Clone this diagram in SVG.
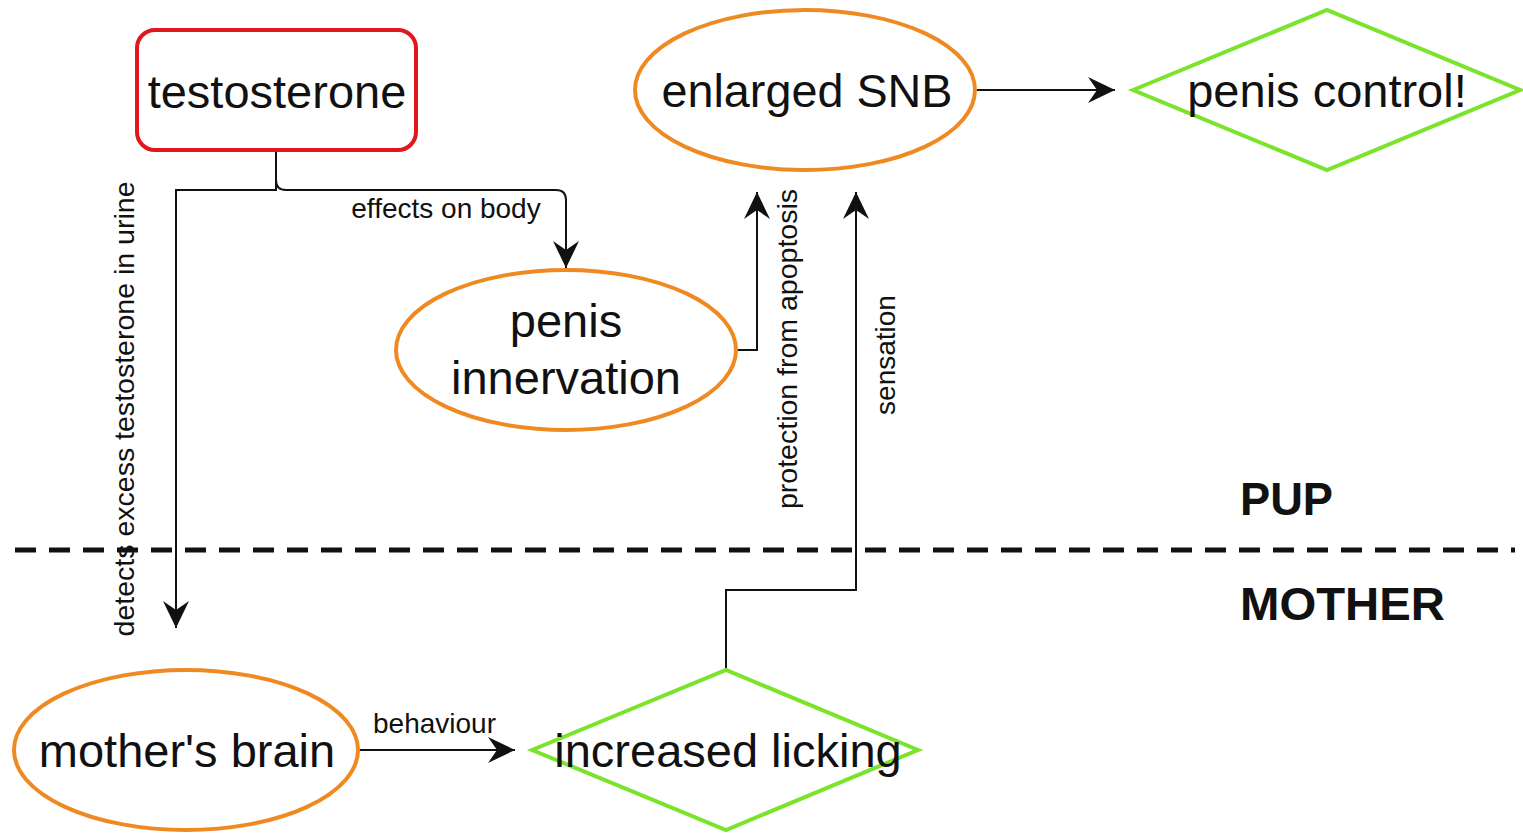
<svg xmlns="http://www.w3.org/2000/svg" width="1523" height="834" viewBox="0 0 1523 834">
<style>
.node{font-family:"Liberation Sans",Arial,Helvetica,sans-serif;font-size:47px;fill:#111;text-anchor:middle}
.lbl{font-family:"Liberation Sans",Arial,Helvetica,sans-serif;font-size:28px;fill:#111}
.ell{fill:#fff;stroke:#EF8A22;stroke-width:4}
.dia{fill:#fff;stroke:#7BE32C;stroke-width:4}
.edge{fill:none;stroke:#111;stroke-width:2}
.sect{font-family:"Liberation Sans",Arial,Helvetica,sans-serif;font-size:46px;font-weight:bold;fill:#111}
</style>
<defs>
<marker id="arr" markerWidth="30" markerHeight="30" viewBox="-28 -15 30 30" refX="0" refY="0" orient="auto" markerUnits="userSpaceOnUse">
<path d="M0,0 L-27,-13 L-18,0 L-27,13 Z" fill="#111"/>
</marker>
</defs>
<rect width="1523" height="834" fill="#fff"/>

<g id="divider">
<line x1="15" y1="550" x2="1515" y2="550" stroke="#111" stroke-width="5" stroke-dasharray="21 13"/>
<text class="sect" x="1240" y="515" textLength="93" lengthAdjust="spacingAndGlyphs">PUP</text>
<text class="sect" x="1240" y="620" textLength="205" lengthAdjust="spacingAndGlyphs">MOTHER</text>
</g>

<g id="connectors">
<path class="edge" d="M276,150 V180 Q276,190 286,190 H556 Q566,190 566,200 V268" marker-end="url(#arr)"/>
<path class="edge" d="M276,150 V190 H176 V628" marker-end="url(#arr)"/>
<path class="edge" d="M736,350 H757 V192" marker-end="url(#arr)"/>
<path class="edge" d="M726,670 V590 H856 V192" marker-end="url(#arr)"/>
<path class="edge" d="M358,750 H515" marker-end="url(#arr)"/>
<path class="edge" d="M977,90 H1115" marker-end="url(#arr)"/>
<text class="lbl" x="446" y="218" text-anchor="middle">effects on body</text>
<text class="lbl" x="373" y="733">behaviour</text>
<text class="lbl" transform="translate(134,409) rotate(-90)" text-anchor="middle" textLength="455" lengthAdjust="spacingAndGlyphs">detects excess testosterone in urine</text>
<text class="lbl" transform="translate(797,349) rotate(-90)" text-anchor="middle" textLength="320" lengthAdjust="spacingAndGlyphs">protection from apoptosis</text>
<text class="lbl" transform="translate(895,355) rotate(-90)" text-anchor="middle">sensation</text>
</g>

<g id="testosterone">
<rect x="137" y="30" width="279" height="120" rx="18" ry="18" fill="#fff" stroke="#E3161E" stroke-width="4"/>
<text class="node" x="277" y="108">testosterone</text>
</g>

<g id="enlarged-snb">
<ellipse class="ell" cx="805" cy="90" rx="170" ry="80"/>
<text class="node" x="807" y="107" textLength="291" lengthAdjust="spacingAndGlyphs">enlarged SNB</text>
</g>

<g id="penis-control">
<polygon class="dia" points="1133,90 1327,10 1520,90 1327,170"/>
<text class="node" x="1327" y="107">penis control!</text>
</g>

<g id="penis-innervation">
<ellipse class="ell" cx="566" cy="350" rx="170" ry="80"/>
<text class="node" x="566" y="337">penis</text>
<text class="node" x="566" y="394">innervation</text>
</g>

<g id="mothers-brain">
<ellipse class="ell" cx="186" cy="750" rx="172" ry="80"/>
<text class="node" x="187" y="767">mother's brain</text>
</g>

<g id="increased-licking">
<polygon class="dia" points="532,750 726,670 918,750 726,830"/>
<text class="node" x="728" y="767">increased licking</text>
</g>
</svg>
